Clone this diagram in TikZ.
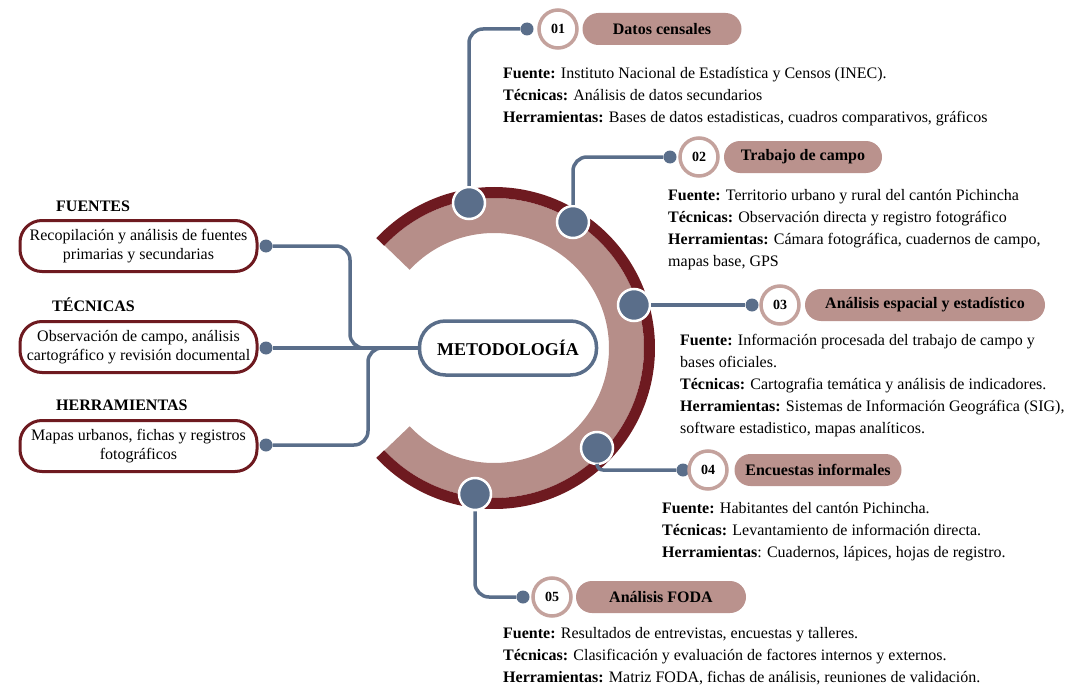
\documentclass[tikz,border=0pt]{standalone}
\usepackage{fontspec}
\setmainfont{Liberation Serif}
\definecolor{mymaroon}{HTML}{6E1A20}
\definecolor{ringrose}{HTML}{B68E89}
\definecolor{pillrose}{HTML}{BA928D}
\definecolor{numrose}{HTML}{C4A29D}
\definecolor{slate}{HTML}{5A6E8A}
\begin{document}
\begin{tikzpicture}[x=1pt,y=-1pt,
  conn/.style={draw=slate, line width=3.5pt, rounded corners=14pt},
  ringdot/.style={circle, fill=slate, draw=white, line width=2.5pt, minimum size=32pt, inner sep=0pt},
  smalldot/.style={circle, fill=slate, minimum size=13pt, inner sep=0pt},
  numc/.style={circle, fill=white, draw=numrose, line width=3.5pt, minimum size=38pt, inner sep=0pt, font=\fontsize{14}{14}\selectfont\bfseries},
  pill/.style={rounded corners=16pt, fill=pillrose, minimum height=32pt, inner sep=0pt, font=\fontsize{16}{16}\selectfont\bfseries},
  info/.style={anchor=base west, align=left, inner sep=0pt, font=\fontsize{16}{22}\selectfont},
  leftbox/.style={draw=mymaroon, line width=3pt, fill=white, rounded corners=22pt, minimum width=237pt, minimum height=51pt, align=center, inner sep=0pt, font=\fontsize{16}{19}\selectfont},
  head/.style={anchor=base west, inner sep=0pt, font=\fontsize{16}{16}\selectfont\bfseries},
  metobox/.style={draw=slate, line width=3.5pt, fill=white, rounded corners=26pt, minimum width=177pt, minimum height=54pt, inner sep=0pt, font=\fontsize{18}{18}\selectfont\bfseries}
]
\useasboundingbox (0,0) rectangle (1074,685);
% ring
\coordinate (C) at (494,348);
\draw[ringrose, line width=35pt] (C) ++(-137:132.5pt) arc[start angle=-137, end angle=137, radius=132.5pt];
\draw[mymaroon, line width=11pt] (C) ++(-137:155.5pt) arc[start angle=-137, end angle=137, radius=155.5pt];

% center
\node[metobox] (meto) at (508,348) {METODOLOGÍA};

% ring dots
\node[ringdot] (d1) at (469,203) {};
\node[ringdot] (d2) at (573,222) {};
\node[ringdot] (d3) at (634,305) {};
\node[ringdot] (d4) at (597,448) {};
\node[ringdot] (d5) at (475,494) {};

% small dots
\node[smalldot] (s1) at (527,29) {};
\node[smalldot] (s2) at (670,157) {};
\node[smalldot] (s3) at (752,305) {};
\node[smalldot] (s4) at (683,470) {};
\node[smalldot] (s5) at (523,597) {};

% number circles
\node[numc] (n1) at (558,29) {01};
\node[numc] (n2) at (699,157) {02};
\node[numc] (n3) at (780,305) {03};
\node[numc] (n4) at (708,470) {04};
\node[numc] (n5) at (552,597) {05};

% pills
\node[pill, minimum width=159pt] (p1) at (662,29) {Datos censales};
\node[pill, minimum width=158pt] (p2) at (803,157) {Trabajo de campo};
\node[pill, minimum width=240pt] (p3) at (925,305) {Análisis espacial y estadístico};
\node[pill, minimum width=167pt] (p4) at (818,470) {Encuestas informales};
\node[pill, minimum width=170pt] (p5) at (661,597) {Análisis FODA};

% info texts (anchor = baseline of the last line)
\node[info] (i1) at (503,122) {\textbf{Fuente:} Instituto Nacional de Estadística y Censos (INEC).\\
\textbf{Técnicas:} Análisis de datos secundarios\\
\textbf{Herramientas:} Bases de datos estadisticas, cuadros comparativos, gráficos};
\node[info] (i2) at (668,266) {\textbf{Fuente:} Territorio urbano y rural del cantón Pichincha\\
\textbf{Técnicas:} Observación directa y registro fotográfico\\
\textbf{Herramientas:} Cámara fotográfica, cuadernos de campo,\\
mapas base, GPS};
\node[info] (i3) at (680,433) {\textbf{Fuente:} Información procesada del trabajo de campo y\\
bases oficiales.\\
\textbf{Técnicas:} Cartografia temática y análisis de indicadores.\\
\textbf{Herramientas:} Sistemas de Información Geográfica (SIG),\\
software estadistico, mapas analíticos.};
\node[info] (i4) at (662,557) {\textbf{Fuente:} Habitantes del cantón Pichincha.\\
\textbf{Técnicas:} Levantamiento de información directa.\\
\textbf{Herramientas}: Cuadernos, lápices, hojas de registro.};
\node[info] (i5) at (503,682) {\textbf{Fuente:} Resultados de entrevistas, encuestas y talleres.\\
\textbf{Técnicas:} Clasificación y evaluación de factores internos y externos.\\
\textbf{Herramientas:} Matriz FODA, fichas de análisis, reuniones de validación.};

% left side
\node[head] (h1) at (56,211) {FUENTES};
\node[head] (h2) at (52,311) {TÉCNICAS};
\node[head] (h3) at (56,410) {HERRAMIENTAS};
\node[leftbox] (b1) at (138.5,246) {Recopilación y análisis de fuentes\\primarias y secundarias};
\node[leftbox] (b2) at (138.5,347) {Observación de campo, análisis\\cartográfico y revisión documental};
\node[leftbox] (b3) at (138.5,446) {Mapas urbanos, fichas y registros\\fotográficos};
\node[smalldot] (ls1) at (266,246) {};
\node[smalldot] (ls2) at (266,348) {};
\node[smalldot] (ls3) at (266,445) {};
\coordinate (k1) at (350,348);
\coordinate (k3) at (368,348);

% connectors
\draw[conn] (d1) |- (s1);
\draw[conn] (d2) |- (s2);
\draw[conn] (d3) -- (s3);
\draw[conn, rounded corners=6pt] (d4) |- (s4);
\draw[conn] (d5) |- (s5);
\draw[conn] (ls1) -| (k1) -- (meto.west);
\draw[conn] (ls2) -- (meto.west);
\draw[conn] (ls3) -| (k3) -- (meto.west);
\end{tikzpicture}
\end{document}
